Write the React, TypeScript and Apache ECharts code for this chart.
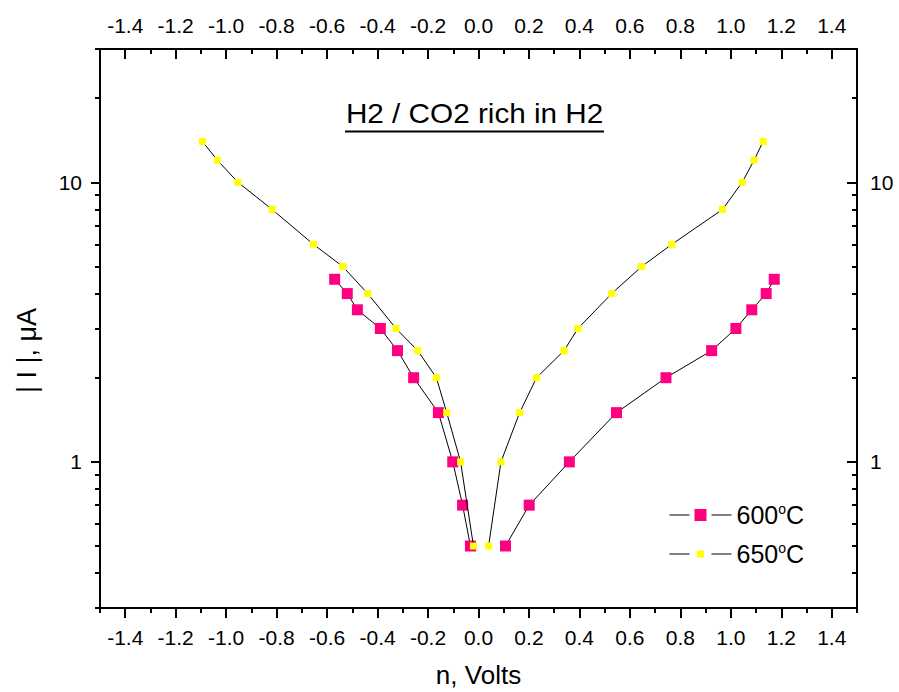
import React, { useEffect, useRef } from 'react';
import * as echarts from 'echarts';

const FONT = "'Liberation Sans', Arial, Helvetica, sans-serif";

const seriesNames = ['600°C', '650°C'];

// 600 °C — cathodic (negative) branch
const v600Neg = [-0.570, -0.520, -0.480, -0.389, -0.321, -0.257, -0.159, -0.102, -0.063, -0.032];
const i600Neg = [4.5, 4.0, 3.5, 3.0, 2.5, 2.0, 1.5, 1.0, 0.7, 0.5];
// 600 °C — anodic (positive) branch
const v600Pos = [0.107, 0.201, 0.360, 0.547, 0.743, 0.924, 1.020, 1.083, 1.140, 1.172];
const i600Pos = [0.5, 0.7, 1.0, 1.5, 2.0, 2.5, 3.0, 3.5, 4.0, 4.5];
// 650 °C — cathodic branch
const v650Neg = [-1.094, -1.035, -0.953, -0.818, -0.654, -0.538, -0.439, -0.327, -0.241, -0.167, -0.126, -0.071, -0.020];
const i650Neg = [14, 12, 10, 8, 6, 5, 4, 3, 2.5, 2, 1.5, 1.0, 0.5];
// 650 °C — anodic branch
const v650Pos = [0.040, 0.089, 0.163, 0.230, 0.339, 0.394, 0.528, 0.647, 0.766, 0.967, 1.045, 1.092, 1.128];
const i650Pos = [0.5, 1.0, 1.5, 2.0, 2.5, 3.0, 4.0, 5.0, 6.0, 8.0, 10, 12, 14];

const xMajorTicks = [-1.4, -1.2, -1.0, -0.8, -0.6, -0.4, -0.2, 0.0, 0.2, 0.4, 0.6, 0.8, 1.0, 1.2, 1.4];
const xMinorTicks = [-1.5, -1.3, -1.1, -0.9, -0.7, -0.5, -0.3, -0.1, 0.1, 0.3, 0.5, 0.7, 0.9, 1.1, 1.3, 1.5];
const yMajorTicks = [1, 10];
const yMinorTicks = [0.3, 0.4, 0.5, 0.6, 0.7, 0.8, 0.9, 2, 3, 4, 5, 6, 7, 8, 9, 20, 30];

const titleText = 'H2 / CO2 rich in H2';
const xName = 'n, Volts';
const yName = '| I |, μA';

const pair = (xs: number[], ys: number[]) => xs.map((x, k) => [x, ys[k]]);

export default function App() {
  const ref = useRef<HTMLDivElement>(null);
  useEffect(() => {
    if (!ref.current) return;
    const chart = echarts.init(ref.current, undefined, { renderer: 'svg' });
    const black = '#000';
    const axisLine = { show: true, onZero: false, lineStyle: { color: black, width: 2 } };
    const noLine = { show: false, onZero: false };
    const tickStyle = { color: black, width: 2 };
    const labelStyle = { color: black, fontSize: 21, fontFamily: FONT };
    const xBase = { type: 'value', min: -1.5, max: 1.5, splitLine: { show: false }, gridIndex: 0 };
    const yBase = { type: 'log', logBase: 10, min: 0.3, max: 30, splitLine: { show: false }, gridIndex: 0 };
    const fmtX = (v: number) => v.toFixed(1);
    const fmtY = (v: number) => String(v);

    const lineSeries = (name: string, data: number[][], color: string, size: number, z: number) => ({
      type: 'line',
      name,
      data,
      xAxisIndex: 0,
      yAxisIndex: 0,
      symbol: 'rect',
      symbolSize: size,
      showAllSymbol: true,
      z,
      lineStyle: { color: black, width: 1 },
      itemStyle: { color, borderWidth: 0 },
      emphasis: { disabled: true },
    });

    const legendText = {
      color: black,
      fontSize: 25,
      fontFamily: FONT,
      rich: {
        b: { fontSize: 25, fontFamily: FONT, color: black, lineHeight: 26 },
        sup: { fontSize: 14, fontFamily: FONT, color: black, verticalAlign: 'top', lineHeight: 14, padding: [0, 0, 2, 0] },
      },
    };
    const legendFmt = (name: string) => {
      const num = name.replace('°C', '');
      return `{b|${num}}{sup|o}{b|C}`;
    };
    const legendLine = { color: black, width: 1, type: [20, 22] };

    chart.setOption({
      animation: false,
      backgroundColor: '#fff',
      grid: { left: 100, right: 42, top: 49, bottom: 84, containLabel: false, outerBoundsMode: 'none' },
      xAxis: [
        {
          ...xBase,
          position: 'bottom',
          axisLine,
          axisTick: { show: true, inside: false, length: 10, customValues: xMajorTicks, lineStyle: tickStyle },
          axisLabel: { ...labelStyle, customValues: xMajorTicks, formatter: fmtX, margin: 19 },
          name: xName,
          nameLocation: 'middle',
          nameGap: 54,
          nameTextStyle: { color: black, fontSize: 26, fontFamily: FONT },
        },
        {
          ...xBase,
          position: 'bottom',
          axisLine: noLine,
          axisTick: { show: true, inside: false, length: 5, customValues: xMinorTicks, lineStyle: tickStyle },
          axisLabel: { show: false },
        },
        {
          ...xBase,
          position: 'top',
          axisLine,
          axisTick: { show: true, inside: true, length: 10, customValues: xMajorTicks, lineStyle: tickStyle },
          axisLabel: { ...labelStyle, customValues: xMajorTicks, formatter: fmtX, margin: 13 },
        },
        {
          ...xBase,
          position: 'top',
          axisLine: noLine,
          axisTick: { show: true, inside: true, length: 5, customValues: xMinorTicks, lineStyle: tickStyle },
          axisLabel: { show: false },
        },
      ],
      yAxis: [
        {
          ...yBase,
          position: 'left',
          axisLine,
          axisTick: { show: true, inside: false, length: 9, customValues: yMajorTicks, lineStyle: tickStyle },
          axisLabel: { ...labelStyle, customValues: yMajorTicks, formatter: fmtY, margin: 18 },
          name: yName,
          nameLocation: 'middle',
          nameGap: 60,
          nameTextStyle: { color: black, fontSize: 27, fontFamily: FONT, padding: [0, 44, 0, 0] },
        },
        {
          ...yBase,
          position: 'left',
          axisLine: noLine,
          axisTick: { show: true, inside: false, length: 5, customValues: yMinorTicks, lineStyle: tickStyle },
          axisLabel: { show: false },
        },
        {
          ...yBase,
          position: 'right',
          axisLine,
          axisTick: { show: true, inside: true, length: 10, customValues: yMajorTicks, lineStyle: tickStyle },
          axisLabel: { ...labelStyle, customValues: yMajorTicks, formatter: fmtY, margin: 13 },
        },
        {
          ...yBase,
          position: 'right',
          axisLine: noLine,
          axisTick: { show: true, inside: true, length: 5, customValues: yMinorTicks, lineStyle: tickStyle },
          axisLabel: { show: false },
        },
      ],
      legend: [
        {
          data: [seriesNames[0]],
          left: 664,
          top: 497,
          itemWidth: 62,
          itemHeight: 15,
          itemGap: 0,
          lineStyle: legendLine,
          selectedMode: false,
          formatter: legendFmt,
          textStyle: legendText,
        },
        {
          data: [seriesNames[1]],
          left: 664,
          top: 536,
          itemWidth: 62,
          itemHeight: 9,
          itemGap: 0,
          lineStyle: legendLine,
          selectedMode: false,
          formatter: legendFmt,
          textStyle: legendText,
        },
      ],
      graphic: [
        {
          type: 'text',
          x: 474.6,
          y: 113,
          scaleX: 1.1,
          style: {
            text: titleText,
            fontSize: 27,
            fontFamily: FONT,
            fill: black,
            align: 'center',
            verticalAlign: 'middle',
            textAlign: 'center',
            textVerticalAlign: 'middle',
          },
        },
        {
          type: 'line',
          shape: { x1: 345, y1: 131.5, x2: 604, y2: 131.5 },
          style: { stroke: black, lineWidth: 2 },
        },
      ],
      series: [
        lineSeries(seriesNames[0], pair(v600Neg, i600Neg), '#ff0080', 11, 2),
        lineSeries(seriesNames[0], pair(v600Pos, i600Pos), '#ff0080', 11, 2),
        lineSeries(seriesNames[1], pair(v650Neg, i650Neg), '#ffff00', 7, 3),
        lineSeries(seriesNames[1], pair(v650Pos, i650Pos), '#ffff00', 7, 3),
      ],
    });
    return () => chart.dispose();
  }, []);
  return (
    <div
      ref={ref}
      style={{ position: 'absolute', left: 0, top: 0, width: 899, height: 692, background: '#fff' }}
    />
  );
}
